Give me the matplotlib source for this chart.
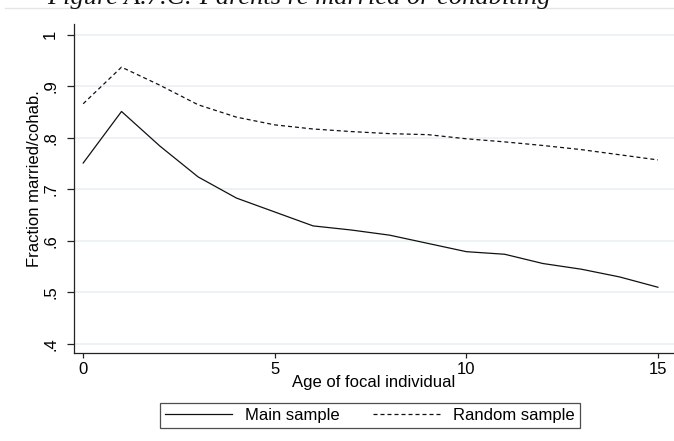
import matplotlib
matplotlib.use("Agg")
import matplotlib.pyplot as plt
from matplotlib.lines import Line2D

ages = list(range(0, 16))
main_sample = [0.751, 0.851, 0.784, 0.724, 0.683, 0.656, 0.629, 0.621, 0.611,
               0.595, 0.579, 0.574, 0.556, 0.545, 0.530, 0.510]
random_sample = [0.866, 0.937, 0.902, 0.864, 0.840, 0.825, 0.817, 0.812, 0.808,
                 0.806, 0.798, 0.792, 0.785, 0.777, 0.767, 0.757]
y_ticks = [0.4, 0.5, 0.6, 0.7, 0.8, 0.9, 1.0]
y_tick_labels = [".4", ".5", ".6", ".7", ".8", ".9", "1"]
x_ticks = [0, 5, 10, 15]
x_tick_labels = ["0", "5", "10", "15"]
series_labels = ["Main sample", "Random sample"]
title_text = "Figure A.7.C: Parents re married or cohabiting"

W, H = 674, 441
fig = plt.figure(figsize=(W / 100, H / 100), dpi=100)
plt.rcParams['font.family'] = ['Liberation Sans', 'DejaVu Sans']

ax = fig.add_axes([73.5 / W, 1 - 352.7 / H, 1 - 73.5 / W, (352.7 - 24) / H])

dash = (0, (3.2, 2.4))
ax.plot(ages, main_sample, color='#111111', lw=0.9, solid_joinstyle='round')
ax.plot(ages, random_sample, color='#111111', lw=0.9, linestyle=dash)

ax.set_xlim(-0.253, 15.42)
ax.set_ylim(0.383, 1.0207)

ax.set_yticks(y_ticks)
ax.set_yticklabels(y_tick_labels, rotation=90, va='center')
ax.set_xticks(x_ticks)
ax.set_xticklabels(x_tick_labels)

ax.grid(axis='y', color='#EAF0F4', lw=1.2)
ax.set_axisbelow(True)

for s in ['top', 'right']:
    ax.spines[s].set_visible(False)
for s in ['left', 'bottom']:
    ax.spines[s].set_color('#222222')
    ax.spines[s].set_linewidth(0.9)

ax.tick_params(axis='y', length=5, width=0.9, color='#222222', labelsize=12, pad=6)
ax.tick_params(axis='x', length=3.5, width=0.9, color='#222222', labelsize=12, pad=3.5)

ax.set_xlabel("Age of focal individual", fontsize=12, labelpad=-2)
ax.set_ylabel("Fraction married/cohab.", fontsize=12)
ax.yaxis.set_label_coords(-0.052, 0.53)

handles = [Line2D([], [], color='#111111', lw=0.9),
           Line2D([], [], color='#111111', lw=0.9, linestyle=dash)]
leg = fig.legend(handles, series_labels, loc='center',
                 bbox_to_anchor=(370 / W, 1 - 415.7 / H), ncol=2,
                 fontsize=12, frameon=True, fancybox=False, edgecolor='#222222',
                 handlelength=4.0, handletextpad=0.8, columnspacing=2.0,
                 borderpad=0.3, borderaxespad=0)
leg.get_frame().set_linewidth(0.9)

# partially visible page title and rule at the top (cut off as in the reference)
fig.text(47 / W, 1 - 4 / H, title_text, fontsize=19, style='italic',
         family='Liberation Serif', va='baseline', ha='left', color='#111111')
fig.add_artist(Line2D([5 / W, 1.0], [1 - 8 / H, 1 - 8 / H], color='#E2E6EA', lw=1))

fig.savefig("out.png", dpi=100)
